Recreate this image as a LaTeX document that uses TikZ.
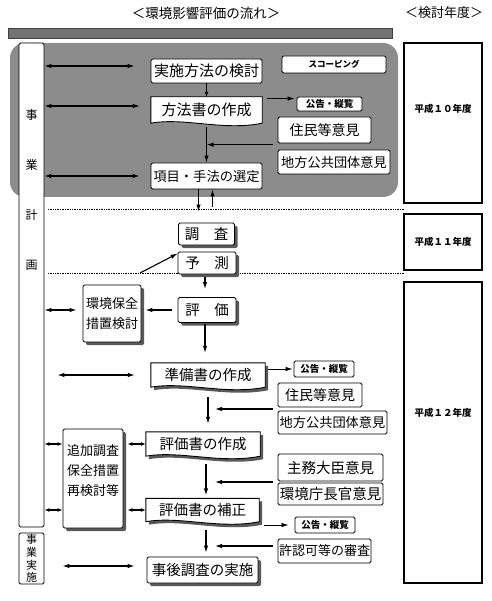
\documentclass[tikz,border=0pt]{standalone}
\usepackage{fontspec}
\setmainfont{Noto Sans CJK JP}
\usetikzlibrary{calc,arrows.meta,shadows}

\pgfdeclarelayer{back}
\pgfdeclarelayer{mid}
\pgfsetlayers{back,mid,main}

\newcommand{\jfs}[1]{\fontsize{#1}{#1}\selectfont}

% outline of a document box (wavy bottom); #1 node, #2 offset
\newcommand{\docpath}[2]{%
  ([shift={#2}]#1.north west) -- ([shift={#2}]#1.north east)
  -- ([shift={#2}]#1.south east)
  .. controls ($([shift={#2}]#1.south east)!0.35!([shift={#2}]#1.south west)+(0pt,-8pt)$)
  and ($([shift={#2}]#1.south east)!0.7!([shift={#2}]#1.south west)+(0pt,6pt)$)
  .. ([shift={#2}]#1.south west) -- cycle}

\tikzset{
  box/.style={draw, fill=white, rounded corners=1.5pt, line width=0.9pt, inner sep=0pt},
  shbox/.style={box, drop shadow={shadow xshift=3pt, shadow yshift=-3pt, fill=black!65, opacity=1}},
  doc/.style={inner sep=0pt},
  docline/.style={draw, fill=white, line width=0.9pt},
  docshd/.style={fill=black!65},
  yrbox/.style={draw, line width=1.4pt},
  arr/.style={-{Latex[length=7pt,width=4.5pt]}, line width=1.1pt},
  dbl/.style={{Latex[length=7pt,width=4.5pt]}-{Latex[length=7pt,width=4.5pt]}, line width=1.1pt},
  sdbl/.style={{Latex[length=5pt,width=4pt]}-{Latex[length=5pt,width=4pt]}, line width=1.1pt},
  sep/.style={densely dotted, line width=0.7pt}
}

\begin{document}
\begin{tikzpicture}[x=1pt,y=-1pt]
\useasboundingbox (0,0) rectangle (491,601);

% --- Titles and top bar ---
\node[font=\jfs{13.5}] (ttlflow) at (206,13) {＜環境影響評価の流れ＞};
\node[font=\jfs{13}] (ttlyear) at (444,13) {＜検討年度＞};
\fill[black!55, draw=black!75] (8,28) rectangle (392,38);

% --- Scoping region ---
\begin{pgfonlayer}{back}
  \fill[black!45, rounded corners=15pt] (10,43) rectangle (398,197);
\end{pgfonlayer}

% --- Project columns ---
\node[box, minimum width=25, minimum height=484] (plan) at (31.5,285) {};
\node[font=\fontsize{12}{50}\selectfont, align=center] (plantxt) at (31.5,190) {事\\業\\計\\画};
\node[box, minimum width=25, minimum height=51, font=\fontsize{11}{12.8}\selectfont, align=center] (exec) at (31.5,558.5) {事\\業\\実\\施};

% --- Year boxes ---
\draw[yrbox] (404,43) rectangle (482,203);
\node[font=\bfseries\jfs{9.5}] (yr10) at (443,109) {平成１０年度};
\draw[yrbox] (404,214) rectangle (482,270);
\node[font=\bfseries\jfs{9.5}] (yr11) at (443,242) {平成１１年度};
\draw[yrbox] (404,282) rectangle (482,583);
\node[font=\bfseries\jfs{9.5}] (yr12) at (443,413) {平成１２年度};

% --- Year separators ---
\draw[sep] (48,209) -- (404,209);
\draw[sep] (48,273) -- (404,273);

% --- Scoping stage ---
\node[box, minimum width=111, minimum height=24, font=\jfs{15}] (jisshi) at (206.5,71) {実施方法の検討};
\node[box, minimum width=104, minimum height=17, font=\bfseries\jfs{8.5}] (scope) at (334,64.5) {スコーピング};
\node[doc, minimum width=111, minimum height=26, font=\jfs{15}] (houhou) at (206.5,110) {方法書の作成};
\node[box, minimum width=65, minimum height=14, font=\bfseries\jfs{9.5}] (kokoku1) at (329.5,104) {公告・縦覧};
\node[box, minimum width=93, minimum height=26, font=\jfs{14}] (jumin1) at (324.5,130) {住民等意見};
\node[box, minimum width=112, minimum height=24, font=\jfs{13.2}] (chihou1) at (334,162) {地方公共団体意見};
\node[box, minimum width=111, minimum height=26, font=\jfs{13.3}] (koumoku) at (206.5,176) {項目・手法の選定};

% --- Survey, prediction, evaluation ---
\node[shbox, minimum width=56, minimum height=22, font=\jfs{14.5}] (chousa) at (206.5,234) {調　査};
\node[shbox, minimum width=58, minimum height=22, font=\jfs{14.5}] (yosoku) at (207,263) {予　測};
\node[shbox, minimum width=58, minimum height=25, font=\jfs{14.5}] (hyouka) at (207,310) {評　価};
\node[shbox, minimum width=58, minimum height=57, font=\fontsize{13}{20}\selectfont, align=center] (hozen) at (112,313.5) {環境保全\\措置検討};

% --- Draft and final statements ---
\node[doc, minimum width=114, minimum height=24, font=\jfs{14.5}] (junbi) at (208,375) {準備書の作成};
\node[box, minimum width=60, minimum height=16, font=\bfseries\jfs{9.5}] (kokoku2) at (324,369) {公告・縦覧};
\node[box, minimum width=84, minimum height=24, font=\jfs{14}] (jumin2) at (320,395) {住民等意見};
\node[box, minimum width=109, minimum height=23, font=\jfs{13.2}] (chihou2) at (332.5,422.5) {地方公共団体意見};
\node[doc, minimum width=114, minimum height=24, font=\jfs{14.5}] (hyoukasho) at (203,444) {評価書の作成};
\node[shbox, minimum width=60, minimum height=99] (tsuika) at (93,478.5) {};
\node[font=\fontsize{13}{20}\selectfont, align=center] (tsuikatxt) at (93,471) {追加調査\\保全措置\\再検討等};
\node[box, minimum width=105, minimum height=27, font=\jfs{14.5}] (shumu) at (330.5,467.5) {主務大臣意見};
\node[box, minimum width=105, minimum height=22, font=\jfs{14.5}] (kankyo) at (330.5,494) {環境庁長官意見};
\node[doc, minimum width=113, minimum height=23, font=\jfs{14.5}] (hosei) at (202.5,510) {評価書の補正};
\node[box, minimum width=60, minimum height=16, font=\bfseries\jfs{9.5}] (kokoku3) at (325,525) {公告・縦覧};
\node[box, minimum width=93, minimum height=24, font=\jfs{13}] (kyoninka) at (324.5,551) {許認可等の審査};
\node[shbox, minimum width=111, minimum height=26, font=\jfs{14.5}] (jigo) at (202.5,570) {事後調査の実施};

% --- Document outlines ---
\begin{pgfonlayer}{mid}
  \filldraw[docline] \docpath{houhou}{(0pt,0pt)};
  \fill[docshd] \docpath{junbi}{(3pt,-3pt)};
  \filldraw[docline] \docpath{junbi}{(0pt,0pt)};
  \fill[docshd] \docpath{hyoukasho}{(3pt,-3pt)};
  \filldraw[docline] \docpath{hyoukasho}{(0pt,0pt)};
  \fill[docshd] \docpath{hosei}{(3pt,-3pt)};
  \filldraw[docline] \docpath{hosei}{(0pt,0pt)};
\end{pgfonlayer}

% --- Links to the project column ---
\coordinate (l1) at ([yshift=5pt]jisshi.west);
\draw[dbl, shorten >=16pt] (plan.east |- l1) -- (l1);
\coordinate (l2) at ([yshift=4pt]houhou.west);
\draw[dbl, shorten >=11pt] (plan.east |- l2) -- (l2);
\draw[dbl, shorten >=11pt] (plan.east |- koumoku.west) -- (koumoku.west);
\draw[dbl, shorten >=6pt] (plan.east |- hyouka.west) -- (hozen.west |- hyouka.west);
\draw[dbl, shorten <=13pt, shorten >=16pt] (plan.east |- junbi.west) -- (junbi.west);
\draw[sdbl] (plan.east |- hyoukasho.west) -- (tsuika.west |- hyoukasho.west);
\draw[sdbl] (plan.east |- hosei.west) -- (tsuika.west |- hosei.west);
\draw[sdbl, shorten <=4pt] (tsuika.east |- hyoukasho.west) -- (hyoukasho.west);
\draw[sdbl, shorten <=4pt] (tsuika.east |- hosei.west) -- (hosei.west);
\coordinate (jg) at ([yshift=4pt]jigo.west);
\draw[dbl, shorten <=18pt, shorten >=12pt] (exec.east |- jg) -- (jg);

% --- Main flow ---
\draw[-{Latex[length=5pt,width=4pt]}, line width=0.9pt] (jisshi.south) -- (houhou.north);
\coordinate (k1) at ([yshift=-2pt]kokoku1.north west);
\draw[arr, line width=0.8pt, shorten <=5pt, shorten >=2pt] (houhou.east |- k1) -- (k1);
\draw[arr] ([yshift=-4pt]houhou.south) -- (koumoku.north);
\coordinate (j1) at ($(jumin1.south west)!0.2!(chihou1.north west)$);
\draw[arr, shorten <=5pt] (j1) -- (koumoku.north |- j1);

\coordinate (kd) at ([xshift=-8pt]koumoku.south);
\coordinate (ku) at ([xshift=6pt]koumoku.south);
\draw[arr, shorten >=11pt] (kd) -- (kd |- chousa.north);
\draw[arr, shorten <=16pt] (ku |- chousa.north) -- (ku);

\coordinate (pd) at (140,273);
\draw[arr] (pd) -- ([yshift=-2pt]yosoku.north west);
\draw[arr, shorten <=3pt, shorten >=8pt] ([xshift=-2pt]yosoku.south) -- ([xshift=-2pt]hyouka.north);
\draw[arr, shorten <=6pt, shorten >=4pt] (hyouka.west) -- (hozen.east |- hyouka.west);
\draw[arr, shorten <=1pt, shorten >=10pt] ([xshift=-2pt]hyouka.south) -- ([xshift=-2pt]hyouka.south |- junbi.north);

\draw[arr, line width=0.8pt, shorten <=3pt, shorten >=1pt] (junbi.east |- kokoku2.west) -- (kokoku2.west);
\coordinate (j2) at ($(jumin2.south west)!0.5!(chihou2.north west)$);
\draw[arr, shorten <=5pt, shorten >=7pt] (j2) -- (junbi.south |- j2);
\draw[arr, shorten <=10pt, shorten >=8pt] (junbi.south) -- (junbi.south |- hyoukasho.north);

\coordinate (ax) at ([xshift=3pt]hyoukasho.south);
\draw[arr, shorten <=8pt, shorten >=3pt] (ax) -- (ax |- hosei.north);
\coordinate (s1) at ($(shumu.south west)!0.5!(kankyo.north west)$);
\draw[arr, shorten <=5pt, shorten >=9pt] (s1) -- (ax |- s1);
\draw[arr, line width=0.8pt, shorten <=5pt, shorten >=6pt] (hosei.east |- kokoku3.west) -- (kokoku3.west);
\draw[arr, shorten <=8pt, shorten >=4pt] (ax |- hosei.south) -- (ax |- jigo.north);
\coordinate (k3) at ([yshift=5pt]kyoninka.west);
\draw[arr, shorten <=5pt, shorten >=9pt] (k3) -- (ax |- k3);

\end{tikzpicture}
\end{document}
